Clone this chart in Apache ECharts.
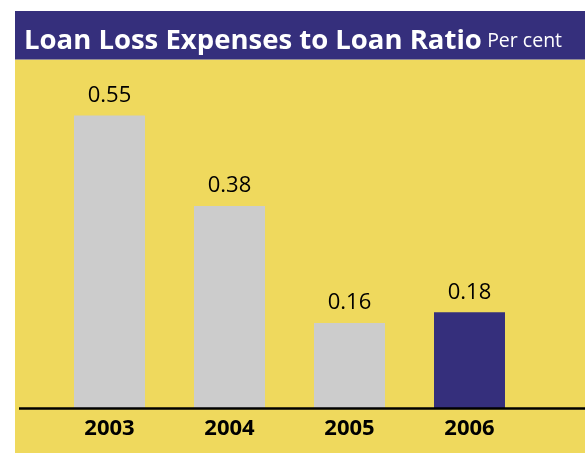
<!DOCTYPE html>
<html>
<head>
<meta charset="utf-8">
<script src="https://cdn.jsdelivr.net/npm/echarts@6/dist/echarts.min.js"></script>
<style>
  html, body { margin: 0; padding: 0; background: #ffffff; }
  #chart { width: 585px; height: 453px; }
</style>
</head>
<body>
<div id="chart"></div>
<script>
// Loan loss expenses as a share of loans, per cent
const years = ['2003', '2004', '2005', '2006'];
const ratios = [0.55, 0.38, 0.16, 0.18];
const currentYear = '2006';
const valueTicks = [0, 0.6];

const NAVY = '#352f7c';
const GOLD = '#efd95d';
const GREY = '#cccccc';
const FONT = '"Open Sans", "Noto Sans", sans-serif';

const chart = echarts.init(document.getElementById('chart'), null, { renderer: 'canvas' });

chart.setOption({
  animation: false,
  backgroundColor: '#ffffff',
  graphic: [
    { type: 'rect', z: -10, shape: { x: 15, y: 59.5, width: 570, height: 394 }, style: { fill: GOLD } },
    { type: 'rect', z: -10, shape: { x: 15, y: 11, width: 570, height: 48.5 }, style: { fill: NAVY } },
    {
      type: 'text', left: 24, top: 27, z: 10,
      style: {
        text: '{a|Loan Loss Expenses to Loan Ratio} {b|Per cent}',
        rich: {
          a: { fontFamily: FONT, fontWeight: 'bold', fontSize: 27.5, lineHeight: 30, fill: '#ffffff' },
          b: { fontFamily: FONT, fontSize: 19.5, lineHeight: 30, fill: '#ffffff', padding: [0, 0, 0, 2] }
        },
        verticalAlign: 'bottom'
      }
    },
    { type: 'line', z: 10, shape: { x1: 19, y1: 408.5, x2: 585, y2: 408.5 }, style: { stroke: '#000000', lineWidth: 2.5 } }
  ],
  grid: { left: 49.5, right: 55.5, top: 89, bottom: 45, containLabel: false },
  xAxis: {
    type: 'category',
    data: years,
    axisLine: { show: false },
    axisTick: { show: false },
    axisLabel: { fontFamily: FONT, fontWeight: 'bold', fontSize: 22, color: '#000000', margin: 10 }
  },
  yAxis: {
    type: 'value',
    min: valueTicks[0],
    max: valueTicks[1],
    show: false,
    splitLine: { show: false }
  },
  series: [{
    type: 'bar',
    data: ratios,
    barWidth: 71,
    itemStyle: {
      color: p => years[p.dataIndex] === currentYear ? NAVY : GREY
    },
    label: {
      show: true,
      position: 'top',
      distance: 9,
      fontFamily: FONT,
      fontSize: 22,
      color: '#000000',
      formatter: p => p.value.toFixed(2)
    }
  }]
});
</script>
</body>
</html>
